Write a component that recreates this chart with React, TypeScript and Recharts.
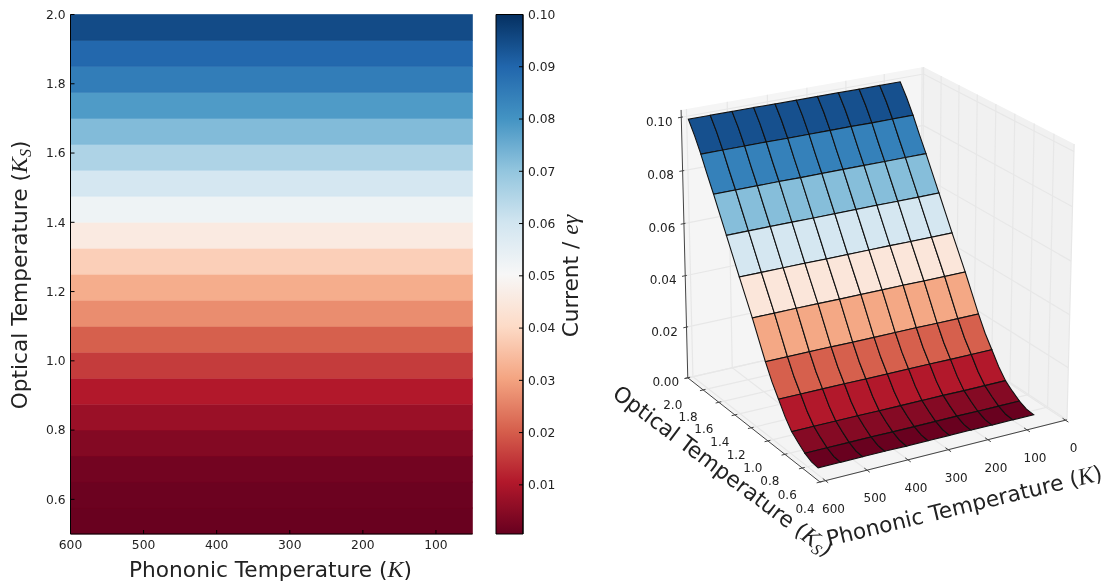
import {
  ReferenceArea,
  Scatter,
  ScatterChart,
  XAxis,
  YAxis,
} from "recharts";

const phononicTicks = [600, 500, 400, 300, 200, 100];
const opticalTicks = [0.6, 0.8, 1.0, 1.2, 1.4, 1.6, 1.8, 2.0];
const currentTicks = [0.01, 0.02, 0.03, 0.04, 0.05, 0.06, 0.07, 0.08, 0.09, 0.1];

// sample edges on the optical axis, shared by the map and the surface
const opticalEdges = [
  0.5, 0.575, 0.65, 0.725, 0.8, 0.875, 0.95, 1.025, 1.1, 1.175, 1.25, 1.325, 1.4, 1.475, 1.55,
  1.625, 1.7, 1.775, 1.85, 1.925, 2.0,
];
const bandCurrent = [
  0.0003, 0.0007, 0.0016, 0.0037, 0.0068, 0.01, 0.015, 0.02, 0.0265, 0.0315, 0.0378, 0.0455,
  0.0525, 0.059, 0.0655, 0.072, 0.0785, 0.085, 0.0895, 0.095,
];

const surfacePhononic = [596, 542.2, 488.4, 434.6, 380.8, 327, 273.2, 219.4, 165.6, 111.8, 58];
const surfaceCurrent = [
  0.0024, 0.0027, 0.004, 0.006, 0.0083, 0.012, 0.0168, 0.0215, 0.0273, 0.0338, 0.0403, 0.0463,
  0.0523, 0.0585, 0.0647, 0.0708, 0.077, 0.0828, 0.089, 0.0945, 0.0992,
];
// slight fall of the surface towards low phononic temperature
const phononicDrop = [
  0.0004, 0.0004, 0.0004, 0.0004, 0.0005, 0.0005, 0.0005, 0.0005, 0.0006, 0.0006, 0.0006,
];
const cellCurrent = [0.0003, 0.004, 0.01, 0.02, 0.0305, 0.044, 0.059, 0.0715, 0.084, 0.094];

const axisPhononic = [600, 500, 400, 300, 200, 100, 0];
const axisOptical = [2.0, 1.8, 1.6, 1.4, 1.2, 1.0, 0.8, 0.6, 0.4];
const axisCurrent = [0, 0.02, 0.04, 0.06, 0.08, 0.1];

const rdBu = [
  "#67001f", "#b2182b", "#d6604d", "#f4a582", "#fddbc7", "#f7f7f7", "#d1e5f0", "#92c5de",
  "#4393c3", "#2166ac", "#053061",
];

const FONT = "'DejaVu Sans', sans-serif";
const MATH = "'Liberation Serif', serif";
const INK = "#222";

function currentColor(value: number) {
  const pos = Math.min(value / 0.1, 0.9999) * (rdBu.length - 1);
  const i = Math.floor(pos);
  const mix = pos - i;
  const channel = (hex: string, at: number) => parseInt(hex.slice(at, at + 2), 16);
  const parts = [1, 3, 5].map((at) =>
    Math.round(channel(rdBu[i], at) * (1 - mix) + channel(rdBu[i + 1], at) * mix),
  );
  return `rgb(${parts.join(",")})`;
}

// mplot3d style camera
const T_RANGE = [-4, 613];
const K_RANGE = [0.4, 2.0];
const Z_RANGE = [0, 0.1027];
const ELEV = (21 * Math.PI) / 180;
const AZIM = (-120 * Math.PI) / 180;
const DIST = 10;
const SCALE_X = 2825;
const SCALE_Y = 2910;
const CHART_LEFT = 590;
const CHART_W = 525;
const CHART_H = 587;
const CENTER_X = 874.2 - CHART_LEFT;
const CENTER_Y = 265;

function project(t: number, k: number, z: number) {
  const u = (T_RANGE[1] - t) / (T_RANGE[1] - T_RANGE[0]) - 0.5;
  const v = (k - K_RANGE[0]) / (K_RANGE[1] - K_RANGE[0]) - 0.5;
  const w = (z - Z_RANGE[0]) / (Z_RANGE[1] - Z_RANGE[0]) - 0.5;
  const n = [Math.cos(ELEV) * Math.cos(AZIM), Math.cos(ELEV) * Math.sin(AZIM), Math.sin(ELEV)];
  const r = [-Math.sin(AZIM), Math.cos(AZIM), 0];
  const up = [-n[2] * r[1], n[2] * r[0], n[0] * r[1] - n[1] * r[0]];
  const depth = DIST - (u * n[0] + v * n[1] + w * n[2]);
  return {
    x: (u * r[0] + v * r[1]) / depth,
    y: (u * up[0] + v * up[1] + w * up[2]) / depth,
  };
}

const [tLow, tHigh] = T_RANGE;
const [kLow, kHigh] = K_RANGE;
const [zLow, zHigh] = Z_RANGE;

const polygon = (key: string, pts: any[], fill: string, stroke = "none", width = 1) => (
  <Scatter
    key={key}
    data={pts}
    isAnimationActive={false}
    shape={() => null}
    lineJointType="linearClosed"
    line={{ fill, stroke, strokeWidth: width }}
  />
);

const segment = (key: string, pts: any[], stroke: string, width = 1) => (
  <Scatter
    key={key}
    data={pts}
    isAnimationActive={false}
    shape={() => null}
    lineJointType="linear"
    line={{ fill: "none", stroke, strokeWidth: width }}
  />
);

const textMarks = (key: string, pts: any[], dx: number, dy: number) => (
  <Scatter
    key={key}
    data={pts}
    isAnimationActive={false}
    shape={(p: any) => (
      <text
        x={p.cx + dx}
        y={p.cy + dy}
        textAnchor="middle"
        dominantBaseline="central"
        fontFamily={FONT}
        fontSize={12}
        fill={INK}
      >
        {p.payload.label}
      </text>
    )}
  />
);

function Title({ x, y, rotate, children }: any) {
  return (
    <text
      x={x}
      y={y}
      transform={`rotate(${rotate} ${x} ${y})`}
      textAnchor="middle"
      fontFamily={FONT}
      fontSize={21.7}
      fill={INK}
    >
      {children}
    </text>
  );
}

const PhononicText = () => (
  <>
    Phononic Temperature (
    <tspan fontFamily={MATH} fontStyle="italic" fontSize={24}>K</tspan>)
  </>
);

const OpticalText = () => (
  <>
    Optical Temperature (
    <tspan fontFamily={MATH} fontStyle="italic" fontSize={24}>K</tspan>
    <tspan fontFamily={MATH} fontStyle="italic" fontSize={16} dy={4}>S</tspan>
    <tspan dy={-4}>)</tspan>
  </>
);

function Surface3D() {
  const marks: any[] = [];
  const grid = "#e7e7e7";

  marks.push(
    polygon("floor", [project(tHigh, kLow, zLow), project(tLow, kLow, zLow), project(tLow, kHigh, zLow), project(tHigh, kHigh, zLow)], "#f4f4f4"),
    polygon("backWall", [project(tHigh, kHigh, zLow), project(tLow, kHigh, zLow), project(tLow, kHigh, zHigh), project(tHigh, kHigh, zHigh)], "#f5f5f5"),
    polygon("sideWall", [project(tLow, kLow, zLow), project(tLow, kHigh, zLow), project(tLow, kHigh, zHigh), project(tLow, kLow, zHigh)], "#f1f1f1"),
  );

  axisPhononic.forEach((t) =>
    marks.push(segment(`gt${t}`, [project(t, kLow, zLow), project(t, kHigh, zLow), project(t, kHigh, zHigh)], grid, 1.2)),
  );
  axisOptical.forEach((k) =>
    marks.push(segment(`gk${k}`, [project(tHigh, k, zLow), project(tLow, k, zLow), project(tLow, k, zHigh)], grid, 1.2)),
  );
  axisCurrent.forEach((z) =>
    marks.push(segment(`gz${z}`, [project(tHigh, kHigh, z), project(tLow, kHigh, z), project(tLow, kLow, z)], grid, 1.2)),
  );

  // axis lines and ticks
  marks.push(
    segment("axisZ", [project(tHigh, kHigh, zLow), project(tHigh, kHigh, zHigh)], "#444"),
    segment("axisK", [project(tHigh, kHigh, zLow), project(tHigh, kLow, zLow)], "#444"),
    segment("axisT", [project(tHigh, kLow, zLow), project(tLow, kLow, zLow)], "#444"),
  );
  axisCurrent.forEach((z) =>
    marks.push(segment(`tz${z}`, [project(tHigh + 8, kHigh, z), project(tHigh - 4, kHigh, z)], "#444")),
  );
  axisOptical.forEach((k) =>
    marks.push(segment(`tk${k}`, [project(tHigh + 8, k, zLow), project(tHigh - 6, k, zLow)], "#444")),
  );
  axisPhononic.forEach((t) =>
    marks.push(segment(`tt${t}`, [project(t, kLow - 0.03, zLow), project(t, kLow + 0.03, zLow)], "#444")),
  );

  const node = (col: number, idx: number) =>
    project(surfacePhononic[col], opticalEdges[idx], surfaceCurrent[idx] - phononicDrop[col]);

  // cells, far rows first
  for (let row = cellCurrent.length - 1; row >= 0; row--) {
    const lo = row * 2;
    for (let col = 0; col < surfacePhononic.length - 1; col++) {
      const pts = [
        node(col, lo),
        node(col, lo + 1),
        node(col, lo + 2),
        node(col + 1, lo + 2),
        node(col + 1, lo + 1),
        node(col + 1, lo),
      ];
      marks.push(polygon(`c${row}-${col}`, pts, currentColor(cellCurrent[row]), "#111", 1.1));
    }
  }

  marks.push(
    textMarks("lz", axisCurrent.map((z) => ({ ...project(tHigh, kHigh, z), label: z.toFixed(2) })), -22, 4.5),
    textMarks("lk", axisOptical.map((k) => ({ ...project(tHigh, k, zLow), label: k.toFixed(1) })), -15, 27),
    textMarks("lt", axisPhononic.map((t) => ({ ...project(t, kLow, zLow), label: String(t) })), 8, 28),
  );

  return (
    <ScatterChart
      width={CHART_W}
      height={CHART_H}
      margin={{ top: 0, right: 0, bottom: 0, left: 0 }}
      style={{ position: "absolute", left: CHART_LEFT, top: 0 }}
    >
      <XAxis hide type="number" dataKey="x" domain={[-CENTER_X / SCALE_X, (CHART_W - CENTER_X) / SCALE_X]} />
      <YAxis hide type="number" dataKey="y" domain={[(CENTER_Y - CHART_H) / SCALE_Y, CENTER_Y / SCALE_Y]} />
      {marks}
      <Title x={718.5 - CHART_LEFT} y={477} rotate={37}><OpticalText /></Title>
      <Title x={966 - CHART_LEFT} y={513} rotate={-13.6}><PhononicText /></Title>
    </ScatterChart>
  );
}

function HeatMap() {
  const corners = [{ t: 600, k: 0.5 }, { t: 50, k: 2 }];
  return (
    <ScatterChart
      width={490}
      height={587}
      margin={{ top: 14.5, right: 17.5, bottom: 23, left: 10 }}
      style={{ position: "absolute", left: 0, top: 0 }}
    >
      <XAxis
        xAxisId="bottom"
        dataKey="t"
        type="number"
        domain={[50, 600]}
        reversed
        ticks={phononicTicks}
        interval={0}
        height={30}
        tickSize={-4}
        tickMargin={10}
        stroke="#000"
        tick={{ fontSize: 12.3, fontFamily: FONT, fill: INK }}
      />
      <XAxis
        xAxisId="top"
        dataKey="t"
        orientation="top"
        type="number"
        domain={[50, 600]}
        reversed
        ticks={phononicTicks}
        interval={0}
        height={0}
        tickSize={-4}
        tick={false}
        stroke="#000"
      />
      <YAxis
        yAxisId="left"
        dataKey="k"
        type="number"
        domain={[0.5, 2]}
        ticks={opticalTicks}
        interval={0}
        width={60.5}
        tickSize={-4}
        tickMargin={9}
        stroke="#000"
        tickFormatter={(v: number) => v.toFixed(1)}
        tick={{ fontSize: 12.3, fontFamily: FONT, fill: INK }}
      />
      <YAxis
        yAxisId="right"
        dataKey="k"
        orientation="right"
        type="number"
        domain={[0.5, 2]}
        ticks={opticalTicks}
        interval={0}
        width={0}
        tickSize={-4}
        tick={false}
        stroke="#000"
      />
      <Scatter xAxisId="bottom" yAxisId="left" data={corners} shape={() => null} isAnimationActive={false} />
      <Scatter xAxisId="top" yAxisId="right" data={corners} shape={() => null} isAnimationActive={false} />
      {bandCurrent.map((value, i) => (
        <ReferenceArea
          key={i}
          xAxisId="bottom"
          yAxisId="left"
          x1={50}
          x2={600}
          y1={opticalEdges[i]}
          y2={opticalEdges[i + 1]}
          fill={currentColor(value)}
          fillOpacity={1}
          stroke={currentColor(value)}
          strokeWidth={0.6}
        />
      ))}
      <Title x={270.5} y={577} rotate={0}><PhononicText /></Title>
      <Title x={27} y={275} rotate={-90}><OpticalText /></Title>
    </ScatterChart>
  );
}

function ColorBar() {
  const ends = [{ a: 0, c: 0.0006 }, { a: 1, c: 0.1 }];
  const topDown = [...rdBu].reverse();
  return (
    <ScatterChart
      width={120}
      height={587}
      margin={{ top: 14.5, right: 37, bottom: 53, left: 16 }}
      style={{ position: "absolute", left: 480, top: 0 }}
    >
      <defs>
        <linearGradient id="currentScale" x1="0" y1="0" x2="0" y2="1">
          {topDown.map((color, i) => (
            <stop key={color} offset={i / (topDown.length - 1)} stopColor={color} />
          ))}
        </linearGradient>
      </defs>
      <XAxis hide dataKey="a" type="number" domain={[0, 1]} />
      <YAxis
        dataKey="c"
        orientation="right"
        type="number"
        domain={[0.0006, 0.1]}
        ticks={currentTicks}
        interval={0}
        width={40}
        tickSize={-4}
        tickMargin={9}
        stroke="#000"
        tickFormatter={(v: number) => v.toFixed(2)}
        tick={{ fontSize: 12.3, fontFamily: FONT, fill: INK }}
      />
      <Scatter data={ends} shape={() => null} isAnimationActive={false} />
      <ReferenceArea
        x1={0}
        x2={1}
        y1={0.0006}
        y2={0.1}
        fill="url(#currentScale)"
        fillOpacity={1}
        stroke="#000"
        strokeWidth={1}
      />
      <Title x={98} y={276} rotate={-90}>
        Current /{" "}
        <tspan fontFamily={MATH} fontStyle="italic" fontSize={24}>eγ</tspan>
      </Title>
    </ScatterChart>
  );
}

export default function App() {
  return (
    <div
      style={{
        position: "absolute",
        left: 0,
        top: 0,
        width: 1115,
        height: 587,
        background: "#fff",
        filter: "blur(0.4px)",
      }}
    >
      <HeatMap />
      <ColorBar />
      <Surface3D />
    </div>
  );
}
